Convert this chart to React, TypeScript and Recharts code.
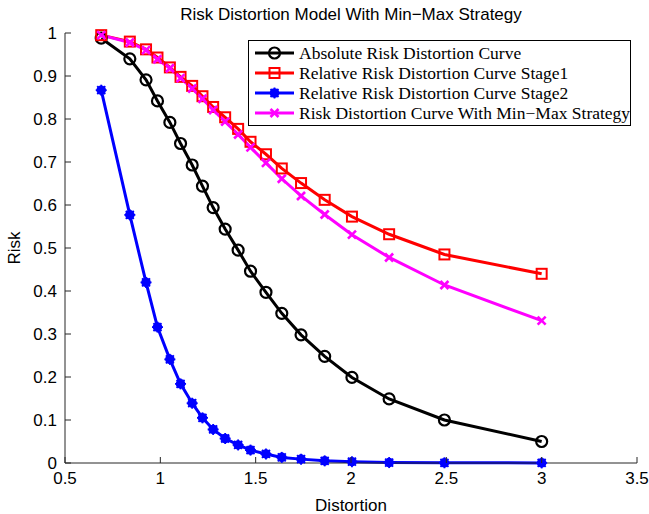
import React from 'react';
import { LineChart, Line, XAxis, YAxis, Legend } from 'recharts';

const distortion = [0.69, 0.84, 0.925, 0.985, 1.05, 1.106, 1.167, 1.221, 1.277, 1.34, 1.408, 1.473, 1.554, 1.637, 1.738, 1.862, 2.005, 2.2, 2.49, 3.0];
const absoluteRisk = [0.988, 0.94, 0.891, 0.842, 0.792, 0.743, 0.693, 0.644, 0.594, 0.544, 0.495, 0.446, 0.397, 0.348, 0.298, 0.248, 0.199, 0.149, 0.1, 0.05];
const stage1Risk = [0.995, 0.98, 0.962, 0.943, 0.92, 0.898, 0.877, 0.853, 0.828, 0.804, 0.777, 0.747, 0.718, 0.685, 0.651, 0.612, 0.573, 0.532, 0.485, 0.44];
const stage2Risk = [0.867, 0.577, 0.42, 0.316, 0.241, 0.184, 0.139, 0.105, 0.078, 0.057, 0.042, 0.03, 0.021, 0.013, 0.009, 0.005, 0.003, 0.001, 0.0005, 0.0002];
const minMaxRisk = [0.995, 0.978, 0.96, 0.939, 0.918, 0.895, 0.871, 0.847, 0.821, 0.794, 0.764, 0.734, 0.698, 0.661, 0.621, 0.578, 0.531, 0.478, 0.414, 0.331];

const xTicks = [0.5, 1, 1.5, 2, 2.5, 3, 3.5];
const yTicks = [0, 0.1, 0.2, 0.3, 0.4, 0.5, 0.6, 0.7, 0.8, 0.9, 1];

const data = distortion.map((d, i) => ({
  d,
  abs: absoluteRisk[i],
  s1: stage1Risk[i],
  s2: stage2Risk[i],
  mm: minMaxRisk[i],
}));

type Shape = 'circle' | 'square' | 'star' | 'cross';

const series: { key: string; name: string; color: string; shape: Shape }[] = [
  { key: 'abs', name: 'Absolute Risk Distortion Curve', color: '#000000', shape: 'circle' },
  { key: 's1', name: 'Relative Risk Distortion Curve Stage1', color: '#ff0000', shape: 'square' },
  { key: 's2', name: 'Relative Risk Distortion Curve Stage2', color: '#0000ff', shape: 'star' },
  { key: 'mm', name: 'Risk Distortion Curve With Min\u2212Max Strategy', color: '#ff00ff', shape: 'cross' },
];

const SANS = '"Liberation Sans", Arial, sans-serif';
const SERIF = '"Liberation Serif", "Times New Roman", serif';
const AXIS = '#262626';
const TICK = 6;

const Marker = ({ cx, cy, shape, color }: { cx: number; cy: number; shape: Shape; color: string }) => {
  if (shape === 'circle') {
    return <circle cx={cx} cy={cy} r={5.5} fill="none" stroke={color} strokeWidth={2.2} />;
  }
  if (shape === 'square') {
    return <rect x={cx - 5} y={cy - 5} width={10} height={10} fill="none" stroke={color} strokeWidth={2} />;
  }
  if (shape === 'star') {
    return (
      <g stroke={color} strokeWidth={1.8}>
        <circle cx={cx} cy={cy} r={4.8} fill={color} stroke="none" />
        <line x1={cx - 5.5} y1={cy} x2={cx + 5.5} y2={cy} />
        <line x1={cx} y1={cy - 5.5} x2={cx} y2={cy + 5.5} />
        <line x1={cx - 4} y1={cy - 4} x2={cx + 4} y2={cy + 4} />
        <line x1={cx - 4} y1={cy + 4} x2={cx + 4} y2={cy - 4} />
      </g>
    );
  }
  return (
    <g stroke={color} strokeWidth={2.6}>
      <line x1={cx - 4} y1={cy - 4} x2={cx + 4} y2={cy + 4} />
      <line x1={cx - 4} y1={cy + 4} x2={cx + 4} y2={cy - 4} />
    </g>
  );
};

const BottomTick = ({ x, y, payload }: any) => (
  <g>
    <line x1={x} y1={y} x2={x} y2={y - TICK} stroke={AXIS} />
    <text x={x} y={y + 21} textAnchor="middle" fontSize={17} fontFamily={SANS} fill="#000">
      {payload.value}
    </text>
  </g>
);

const LeftTick = ({ x, y, payload }: any) => (
  <g>
    <line x1={x} y1={y} x2={x + TICK} y2={y} stroke={AXIS} />
    <text x={x - 8} y={y} dy="0.33em" textAnchor="end" fontSize={17} fontFamily={SANS} fill="#000">
      {payload.value}
    </text>
  </g>
);

const TopTick = ({ x, y }: any) => <line x1={x} y1={y} x2={x} y2={y + TICK} stroke={AXIS} />;
const RightTick = ({ x, y }: any) => <line x1={x} y1={y} x2={x - TICK} y2={y} stroke={AXIS} />;

const LegendBox = () => (
  <div style={{
    border: '1px solid #000',
    background: '#fff',
    width: 375,
    height: 82,
    boxSizing: 'content-box',
    paddingTop: 2,
    paddingLeft: 6,
    fontFamily: SERIF,
    fontSize: 17.5,
    color: '#000',
  }}>
    {series.map(s => (
      <div key={s.key} style={{ display: 'flex', alignItems: 'center', height: 20, whiteSpace: 'nowrap' }}>
        <svg width={39} height={20} style={{ flex: 'none' }}>
          <line x1={0} y1={10} x2={39} y2={10} stroke={s.color} strokeWidth={3} />
          <Marker cx={19.5} cy={10} shape={s.shape} color={s.color} />
        </svg>
        <span style={{ marginLeft: 5, lineHeight: '20px' }}>{s.name}</span>
      </div>
    ))}
  </div>
);

export default function App() {
  return (
    <div style={{ position: 'absolute', left: 0, top: 0, width: 649, height: 514, background: '#fff' }}>
      <div style={{
        position: 'absolute',
        left: 65,
        width: 572,
        top: 5,
        textAlign: 'center',
        fontFamily: SANS,
        fontSize: 17,
        lineHeight: '20px',
        color: '#000',
        zIndex: 2,
      }}>
        Risk Distortion Model With Min{'\u2212'}Max Strategy
      </div>
      <LineChart width={649} height={514} data={data} margin={{ top: 33, right: 12, left: 0, bottom: 0 }}>
        <XAxis
          dataKey="d"
          type="number"
          domain={[0.5, 3.5]}
          ticks={xTicks}
          interval={0}
          height={51}
          tickSize={0}
          tickMargin={0}
          tickLine={false}
          tick={<BottomTick />}
          axisLine={{ stroke: AXIS }}
          label={{ value: 'Distortion', position: 'insideBottom', offset: 3, fontSize: 17, fontFamily: SANS, fill: '#000' }}
        />
        <XAxis
          xAxisId="top"
          orientation="top"
          type="number"
          domain={[0.5, 3.5]}
          allowDataOverflow
          ticks={xTicks}
          interval={0}
          height={0}
          tickSize={0}
          tickMargin={0}
          tickLine={false}
          tick={<TopTick />}
          axisLine={{ stroke: AXIS }}
        />
        <YAxis
          type="number"
          domain={[0, 1]}
          ticks={yTicks}
          interval={0}
          width={65}
          tickSize={0}
          tickMargin={0}
          tickLine={false}
          tick={<LeftTick />}
          axisLine={{ stroke: AXIS }}
          label={{ value: 'Risk', angle: -90, position: 'insideLeft', offset: 14, fontSize: 17, fontFamily: SANS, fill: '#000', style: { textAnchor: 'middle' } }}
        />
        <YAxis
          yAxisId="right"
          orientation="right"
          type="number"
          domain={[0, 1]}
          allowDataOverflow
          ticks={yTicks}
          interval={0}
          width={0}
          tickSize={0}
          tickMargin={0}
          tickLine={false}
          tick={<RightTick />}
          axisLine={{ stroke: AXIS }}
        />
        {series.map(s => (
          <Line
            key={s.key}
            type="linear"
            dataKey={s.key}
            name={s.name}
            stroke={s.color}
            strokeWidth={3}
            isAnimationActive={false}
            dot={(p: any) => <Marker key={`${s.key}-${p.index}`} cx={p.cx} cy={p.cy} shape={s.shape} color={s.color} />}
            activeDot={false}
          />
        ))}
        <Legend
          layout="horizontal"
          verticalAlign="middle"
          align="center"
          content={() => <LegendBox />}
          wrapperStyle={{ left: 248, top: 40, width: 'auto', height: 'auto' }}
        />
      </LineChart>
    </div>
  );
}
